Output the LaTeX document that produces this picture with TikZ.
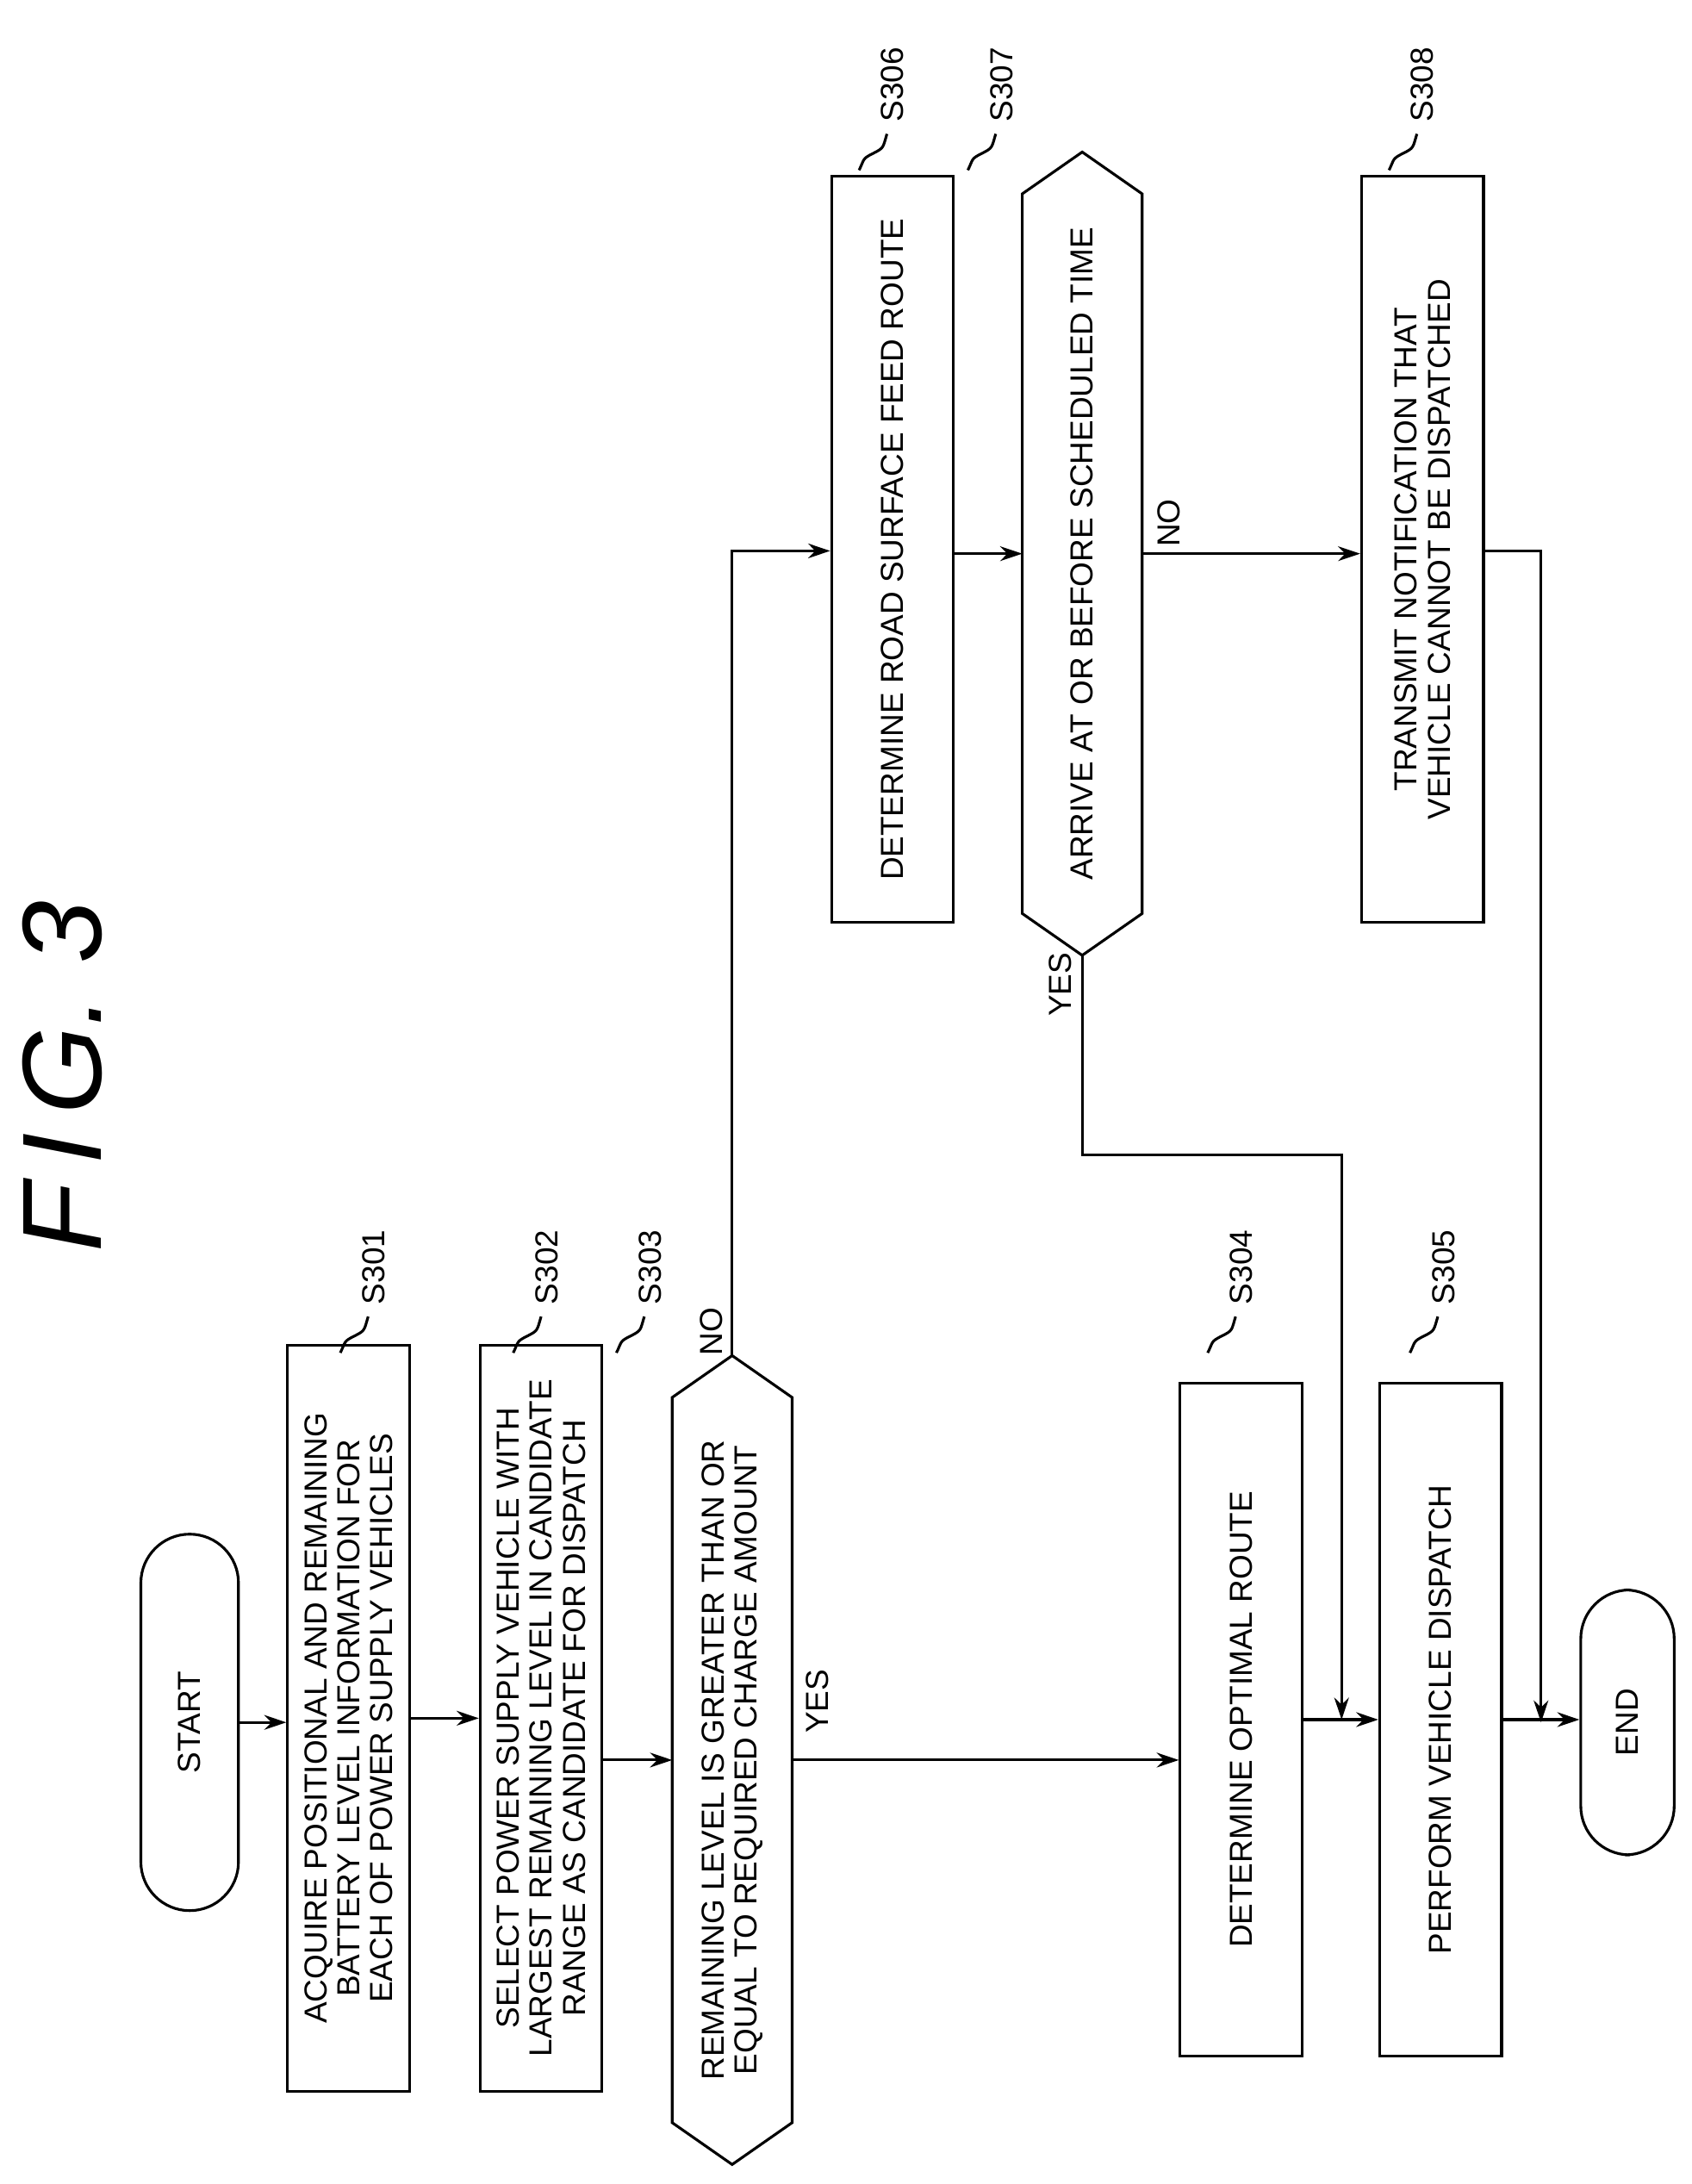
\documentclass[tikz,border=0pt]{standalone}
\usepackage{fontspec}
\setmainfont{Liberation Sans}
\usetikzlibrary{arrows.meta}
\tikzset{
    box/.style={draw,rotate=90,minimum width=10.7cm,minimum height=1.75cm,align=center,inner sep=2pt},
    term/.style={draw,rotate=90,rounded corners=0.7cm,minimum width=5.4cm,minimum height=1.4cm},
    flow/.style={-{Stealth[length=9pt,width=6pt]}},
    lab/.style={rotate=90,anchor=west,inner sep=1pt},
}
\newcommand{\steplab}[3]{% name, position, text
  \node[lab] (#1) at (#2) {#3};
  \draw ([shift={(-4,6)}]#1.west) .. controls +(-3,10) and +(8,-4) .. +(-10,14) .. controls +(-8,4) and +(4,-8) .. +(-20,26);
}
% decision: name, x, y, half length, text
\newcommand{\decision}[5]{%
  \node[rotate=90,align=center,inner sep=0pt] (#1) at (#2,#3) {#5};
  \coordinate (#1-t) at (#2,#3-#4);
  \coordinate (#1-b) at (#2,#3+#4);
  \coordinate (#1-l) at (#2-43,#3);
  \coordinate (#1-r) at (#2+43,#3);
  \draw (#1-t) -- (#2+43,#3-#4+30) -- (#2+43,#3+#4-30) -- (#1-b)
        -- (#2-43,#3+#4-30) -- (#2-43,#3-#4+30) -- cycle;
}
\begin{document}
\begin{tikzpicture}[x=0.02cm,y=-0.02cm,line width=1.1pt,font=\fontsize{13}{13.5}\selectfont]
\useasboundingbox (0,0) rectangle (1213,1566);
\node[rotate=90,font=\fontsize{46}{46}\selectfont\itshape] (title) at (45,772) {F\,I\,G.\ 3};
% main column
\node[term] (start) at (136,1235) {START};
\node[box] (s301) at (250,1232) {ACQUIRE POSITIONAL AND REMAINING\\BATTERY LEVEL INFORMATION FOR\\EACH OF POWER SUPPLY VEHICLES};
\node[box] (s302) at (388,1232) {SELECT POWER SUPPLY VEHICLE WITH\\LARGEST REMAINING LEVEL IN CANDIDATE\\RANGE AS CANDIDATE FOR DISPATCH};
\decision{s303}{525}{1262}{290}{REMAINING LEVEL IS GREATER THAN OR\\EQUAL TO REQUIRED CHARGE AMOUNT}
\node[box,minimum width=9.66cm] (s304) at (890,1233) {DETERMINE OPTIMAL ROUTE};
\node[box,minimum width=9.66cm] (s305) at (1033,1233) {PERFORM VEHICLE DISPATCH};
\node[term,minimum width=3.8cm,minimum height=1.34cm] (end) at (1167,1235) {END};
% upper column
\node[box] (s306) at (640,394) {DETERMINE ROAD SURFACE FEED ROUTE};
\decision{s307}{776}{397}{288}{ARRIVE AT OR BEFORE SCHEDULED TIME}
\node[box] (s308) at (1020,394) {TRANSMIT NOTIFICATION THAT\\VEHICLE CANNOT BE DISPATCHED};
% connectors
\draw[flow] (start) -- (start -| s301.north);
\draw[flow] (s301) -- (s301 -| s302.north);
\draw[flow] (s302.south |- s303-l) -- (s303-l);
\draw[flow] (s303-r) -- (s303-r -| s304.north);
\node[rotate=90] (yes1) at (586,1220) {YES};
\draw[flow] (s304) -- (s304 -| s305.north);
\draw[flow] (s305) -- (s305 -| end.north);
\coordinate (c303) at (525,395);
\draw[flow] (s303-t) -- (c303) -- (s306.north |- c303);
\node[rotate=90] (no1) at (510,955) {NO};
\draw[flow] (s306.south |- s307-l) -- (s307-l);
\draw[flow] (s307-r) -- (s308.north |- s307-r);
\node[rotate=90] (no2) at (838,375) {NO};
\coordinate (c307a) at (776,828);
\coordinate (c307b) at (962,828);
\draw[flow] (s307-b) -- (c307a) -- (c307b) -- (c307b |- s305);
\node[rotate=90] (yes2) at (760,706) {YES};
\coordinate (c308) at (1105,395);
\draw[flow] (s308.south |- c308) -- (c308) -- (c308 |- end);
% step labels
\steplab{l301}{268,938}{S301}
\steplab{l302}{392,938}{S302}
\steplab{l303}{466,938}{S303}
\steplab{l304}{890,938}{S304}
\steplab{l305}{1035,938}{S305}
\steplab{l306}{640,90}{S306}
\steplab{l307}{718,90}{S307}
\steplab{l308}{1020,90}{S308}
\end{tikzpicture}
\end{document}
